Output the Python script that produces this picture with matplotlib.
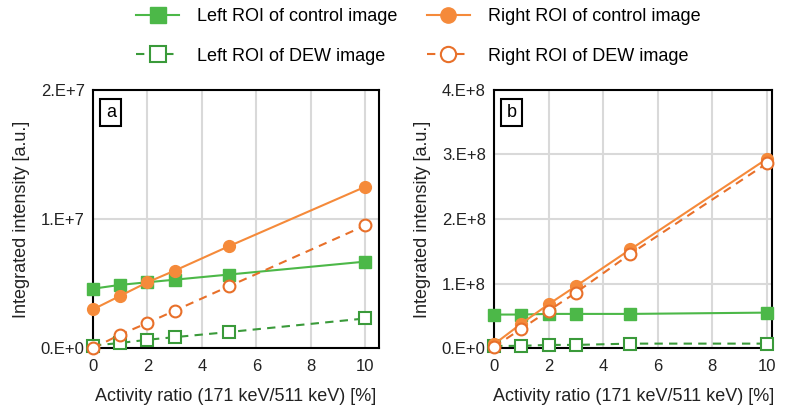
import matplotlib.pyplot as plt
from matplotlib.lines import Line2D

plt.rcParams['font.family'] = ['Liberation Sans', 'DejaVu Sans']

ratio = [0, 1, 2, 3, 5, 10]

# panel a
a_left_ctrl = [4.6e6, 4.9e6, 5.1e6, 5.3e6, 5.7e6, 6.7e6]
a_right_ctrl = [3.0e6, 4.05e6, 5.1e6, 6.0e6, 7.9e6, 12.5e6]
a_left_dew = [0.2e6, 0.4e6, 0.65e6, 0.85e6, 1.25e6, 2.3e6]
a_right_dew = [0.0, 1.05e6, 1.95e6, 2.9e6, 4.8e6, 9.5e6]
a_ticks = [0, 1e7, 2e7]
a_ticklabels = ["0.E+0", "1.E+7", "2.E+7"]

# panel b
b_left_ctrl = [5.2e7, 5.2e7, 5.3e7, 5.3e7, 5.3e7, 5.5e7]
b_right_ctrl = [0.06e8, 0.38e8, 0.68e8, 0.96e8, 1.53e8, 2.93e8]
b_left_dew = [0.035e8, 0.035e8, 0.05e8, 0.05e8, 0.07e8, 0.07e8]
b_right_dew = [0.02e8, 0.30e8, 0.58e8, 0.86e8, 1.46e8, 2.86e8]
b_ticks = [0, 1e8, 2e8, 3e8, 4e8]
b_ticklabels = ["0.E+0", "1.E+8", "2.E+8", "3.E+8", "4.E+8"]

labels = ["Left ROI of control image", "Left ROI of DEW image",
          "Right ROI of control image", "Right ROI of DEW image"]

GREEN = "#4CB848"
GREEN_D = "#3A9A3A"
ORANGE = "#F58A3A"
ORANGE_D = "#E8702A"

styles = [
    dict(color=GREEN, ls="-", marker="s", mfc=GREEN, mec=GREEN),
    dict(color=GREEN_D, ls=(0, (4, 3)), marker="s", mfc="white", mec=GREEN_D, mew=1.5),
    dict(color=ORANGE, ls="-", marker="o", mfc=ORANGE, mec=ORANGE),
    dict(color=ORANGE_D, ls=(0, (4, 3)), marker="o", mfc="white", mec=ORANGE_D, mew=1.5),
]

fig = plt.figure(figsize=(7.88, 4.12), dpi=100)
ax_a = fig.add_axes([0.118, 0.155, 0.363, 0.627])
ax_b = fig.add_axes([0.627, 0.155, 0.353, 0.627])


def draw(ax, series, ticks, ticklabels, xmax, tag):
    for ys, st in zip(series, styles):
        ax.plot(ratio, ys, lw=1.5, ms=8.5, clip_on=False, zorder=3, **st)
    ax.set_xlim(0, xmax)
    ax.set_ylim(ticks[0], ticks[-1])
    ax.set_xticks([0, 2, 4, 6, 8, 10])
    ax.set_yticks(ticks)
    ax.set_yticklabels(ticklabels)
    ax.tick_params(length=0, labelsize=12, colors="#222222")
    ax.tick_params(axis="x", pad=8)
    ax.tick_params(axis="y", pad=6)
    ax.grid(True, color="#D9D9D9", lw=1.5)
    ax.set_axisbelow(True)
    for s in ax.spines.values():
        s.set_linewidth(1.5)
        s.set_color("black")
    ax.set_xlabel("Activity ratio (171 keV/511 keV) [%]", fontsize=13, labelpad=10, color="#222222")
    ax.set_ylabel("Integrated intensity [a.u.]", fontsize=13, labelpad=8, color="#222222")
    ax.text(0.045, 0.945, tag, transform=ax.transAxes, fontsize=13, ha="left", va="top",
            bbox=dict(boxstyle="square,pad=0.3", fc="white", ec="black", lw=1.5), zorder=5)


draw(ax_a, [a_left_ctrl, a_left_dew, a_right_ctrl, a_right_dew], a_ticks, a_ticklabels, 10.5, "a")
draw(ax_b, [b_left_ctrl, b_left_dew, b_right_ctrl, b_right_dew], b_ticks, b_ticklabels, 10.2, "b")

handles = [Line2D([], [], lw=1.5, ms=11, **st) for st in styles]
fig.legend(handles, labels, loc="upper center", bbox_to_anchor=(0.531, 1.02), ncol=2,
           frameon=False, fontsize=13, labelspacing=1.25, columnspacing=1.6,
           handlelength=2.4, handletextpad=1.0)

fig.savefig("out.png", dpi=100)
